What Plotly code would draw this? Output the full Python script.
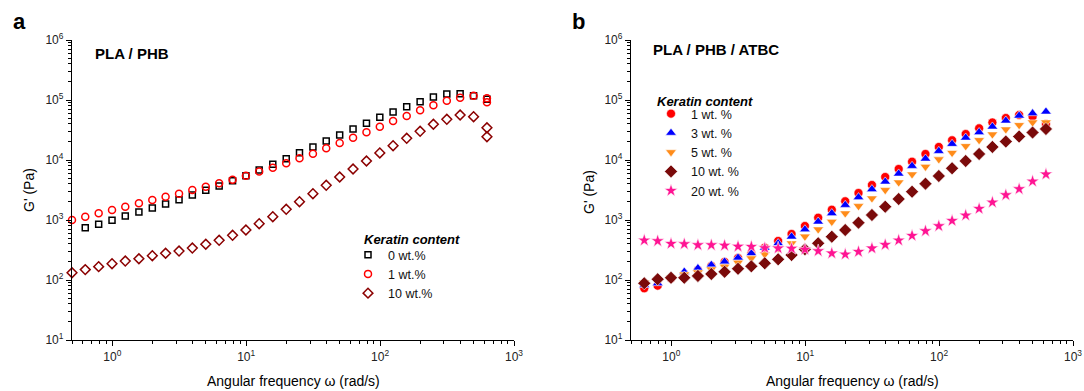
import plotly.graph_objects as go

# ---------------- data ----------------
# Panel a : PLA / PHB
freq_a = [0.5, 0.628, 0.791, 0.995, 1.25, 1.58, 1.99, 2.50, 3.15, 3.96, 4.99,
          6.28, 7.91, 9.95, 12.5, 15.8, 19.9, 25.0, 31.5, 39.6, 49.9, 62.8,
          79.1, 99.5, 125, 158, 199, 250, 315, 396, 499, 628, 628]
freq_a0 = [0.628, 0.791, 0.995, 1.25, 1.58, 1.99, 2.50, 3.15, 3.96, 4.99,
           6.28, 7.91, 9.95, 12.5, 15.8, 19.9, 25.0, 31.5, 39.6, 49.9, 62.8,
           79.1, 99.5, 125, 158, 199, 250, 315, 396, 499, 628]

a_k0 = [745, 848, 989, 1166, 1360, 1585, 1848, 2180, 2610, 3126, 3690, 4520,
        5470, 6810, 8480, 10500, 13200, 16500, 20700, 26100, 32900, 40900,
        51500, 63100, 77300, 93700, 112000, 126000, 127000, 118000, 103000]
a_k1 = [1000, 1135, 1294, 1468, 1667, 1897, 2154, 2445, 2745, 3162, 3590,
        4090, 4700, 5470, 6430, 7450, 8810, 10700, 12700, 15700, 19200, 23500,
        29000, 35900, 44700, 54100, 67300, 81600, 97300, 109000, 118000,
        107000, 91600]
a_k10 = [132, 149, 167, 187, 207, 226, 254, 279, 304, 341, 394, 459, 556, 681,
         868, 1135, 1508, 2018, 2745, 3790, 5210, 7080, 9620, 13100, 17300,
         23000, 30100, 39400, 47700, 56200, 52700, 34500, 24400]

# Panel b : PLA / PHB / ATBC
freq_b = [0.628, 0.791, 0.995, 1.25, 1.58, 1.99, 2.50, 3.15, 3.96, 4.99,
          6.28, 7.91, 9.95, 12.5, 15.8, 19.9, 25.0, 31.5, 39.6, 49.9, 62.8,
          79.1, 99.5, 125, 158, 199, 250, 315, 396, 499, 628]
b_k1 = [72.7, 80.4, 107, 126, 147, 171, 200, 233, 282, 345, 447, 585, 794,
        1092, 1485, 2050, 2818, 3830, 5210, 7080, 9370, 12600, 16500, 21300,
        27100, 33700, 42200, 50100, 56200, 52700, 39800]
b_k3 = [82.5, 88.1, 114, 137, 157, 178, 202, 235, 279, 345, 409, 527, 695,
        937, 1294, 1778, 2390, 3250, 4350, 5910, 7940, 10500, 14100, 18500,
        23500, 29000, 35900, 45200, 54700, 60000, 63800]
b_k5 = [91.6, 97.3, 109, 124, 134, 151, 167, 194, 230, 268, 338, 409, 531,
        700, 937, 1294, 1711, 2300, 3162, 4250, 5780, 7730, 10300, 13200,
        17100, 21500, 26800, 32500, 38300, 42500, 42500]
b_k10 = [88.1, 103, 109, 109, 117, 126, 137, 154, 169, 190, 221, 261, 325,
         409, 527, 681, 902, 1212, 1667, 2239, 2965, 4030, 5410, 7270, 9620,
         12600, 16500, 20300, 24600, 28700, 32900]
b_k20 = [459, 447, 403, 398, 383, 383, 376, 362, 360, 341, 338, 335, 322, 304,
         279, 268, 296, 338, 387, 459, 548, 656, 794, 973, 1197, 1542, 1972,
         2610, 3289, 4416, 5780]

labels_a = ["0 wt.%", "1 wt.%", "10 wt.%"]
labels_b = ["1 wt. %", "3 wt. %", "5 wt. %", "10 wt. %", "20 wt. %"]

x_major = [1, 10, 100, 1000]
x_major_text = ["10<sup>0</sup>", "10<sup>1</sup>", "10<sup>2</sup>", "10<sup>3</sup>"]
y_major = [10, 100, 1000, 10000, 100000, 1000000]
y_major_text = ["10<sup>1</sup>", "10<sup>2</sup>", "10<sup>3</sup>",
                "10<sup>4</sup>", "10<sup>5</sup>", "10<sup>6</sup>"]

# ---------------- figure ----------------
FONT = "Liberation Sans, Arial, sans-serif"
W, H = 1084, 391

x_minor = [m * 10 ** e for e in range(-1, 3) for m in range(2, 10)] + [0.5]
y_minor = [m * 10 ** e for e in range(1, 6) for m in range(2, 10)]

fig = go.Figure()

def add(x, y, name, sym, color, size, xa, ya, legend, lw=1.5, filled=False):
    if filled:
        marker = dict(symbol=sym, size=size, color=color,
                      line=dict(color="white", width=0.6))
    else:
        marker = dict(symbol=sym, size=size, color=color,
                      line=dict(color=color, width=lw))
    fig.add_trace(go.Scatter(x=x, y=y, mode="markers", name=name,
                             marker=marker, xaxis=xa, yaxis=ya,
                             legend=legend, cliponaxis=False))

DR = "#8B0000"
add(freq_a0, a_k0, labels_a[0], "square-open", "black", 6, "x", "y", "legend")
add(freq_a, a_k1, labels_a[1], "circle-open", "#FF0000", 7, "x", "y", "legend")
add(freq_a, a_k10, labels_a[2], "diamond-open", DR, 7.5, "x", "y", "legend")

add(freq_b, b_k1, labels_b[0], "circle", "#FF0000", 9, "x2", "y2", "legend2", filled=True)
add(freq_b, b_k3, labels_b[1], "triangle-up", "#0000FF", 9.5, "x2", "y2", "legend2", filled=True)
add(freq_b, b_k5, labels_b[2], "triangle-down", "#FF8C1A", 9.5, "x2", "y2", "legend2", filled=True)
add(freq_b, b_k10, labels_b[3], "diamond", "#7A0A0A", 10, "x2", "y2", "legend2", filled=True)
add(freq_b, b_k20, labels_b[4], "star", "#FF1493", 10, "x2", "y2", "legend2", filled=True)

ydom = [(H - 340) / H, (H - 40) / H]

def xaxis(dom, anchor):
    return dict(type="log", domain=dom, range=[-0.30103, 3], anchor=anchor,
                automargin=False,
                showline=True, linecolor="black", linewidth=1.3,
                ticks="outside", ticklen=5, tickwidth=1.2, tickcolor="black",
                tickvals=x_major, ticktext=x_major_text,
                minor=dict(ticks="outside", ticklen=3, tickwidth=1,
                           tickcolor="black", tickvals=x_minor, showgrid=False),
                showgrid=False, zeroline=False,
                tickfont=dict(family=FONT, size=12, color="#222"))

def yaxis(anchor):
    return dict(type="log", domain=ydom, range=[1, 6], anchor=anchor,
                automargin=False,
                showline=True, linecolor="black", linewidth=1.3,
                ticks="outside", ticklen=5, tickwidth=1.2, tickcolor="black",
                tickvals=y_major, ticktext=y_major_text,
                minor=dict(ticks="outside", ticklen=3, tickwidth=1,
                           tickcolor="black", tickvals=y_minor, showgrid=False),
                showgrid=False, zeroline=False,
                tickfont=dict(family=FONT, size=12, color="#222"))

LEG_FONT = dict(family=FONT, size=12.5, color="#111")
fig.update_layout(
    width=W, height=H,
    margin=dict(l=0, r=0, t=0, b=0, autoexpand=False),
    paper_bgcolor="white", plot_bgcolor="white",
    font=dict(family=FONT, color="#111"),
    xaxis=xaxis([72 / W, 514 / W], "y"),
    yaxis=yaxis("x"),
    xaxis2=xaxis([631 / W, 1073 / W], "y2"),
    yaxis2=yaxis("x2"),
    legend=dict(x=348 / W, y=1 - 240 / H, xanchor="left", yanchor="top",
                bgcolor="rgba(0,0,0,0)", font=LEG_FONT,
                itemwidth=30, tracegroupgap=0),
    legend2=dict(x=651 / W, y=1 - 99 / H, xanchor="left", yanchor="top",
                 bgcolor="rgba(0,0,0,0)", font=LEG_FONT,
                 itemwidth=30, tracegroupgap=0),
    showlegend=True,
)

def txt(x, y, s, size, bold=True, italic=False, xanchor="left", angle=0):
    fig.add_annotation(x=x / W, y=1 - y / H, xref="paper", yref="paper",
                       text=s, showarrow=False, xanchor=xanchor, yanchor="middle",
                       textangle=angle,
                       font=dict(family=FONT, size=size, color="black",
                                 weight="bold" if bold else "normal",
                                 style="italic" if italic else "normal"))

txt(11, 22, "a", 22)
txt(570, 22, "b", 22)
txt(93, 53, "PLA / PHB", 15)
txt(651, 49, "PLA / PHB / ATBC", 15)
txt(362, 239, "Keratin content", 13, italic=True)
txt(655, 101, "Keratin content", 13, italic=True)

# axis titles
xt = "Angular frequency \u03c9 (rad/s)"
txt(293, 381, xt, 14, bold=False, xanchor="center")
txt(852, 381, xt, 14, bold=False, xanchor="center")
txt(29, 190, "G' (Pa)", 14, bold=False, xanchor="center", angle=-90)
txt(589, 192, "G' (Pa)", 14, bold=False, xanchor="center", angle=-90)

fig.write_html("out.html",
               config={"displayModeBar": False},
               post_script="document.body.style.margin='0';"
                           "document.body.style.overflow='hidden';")
